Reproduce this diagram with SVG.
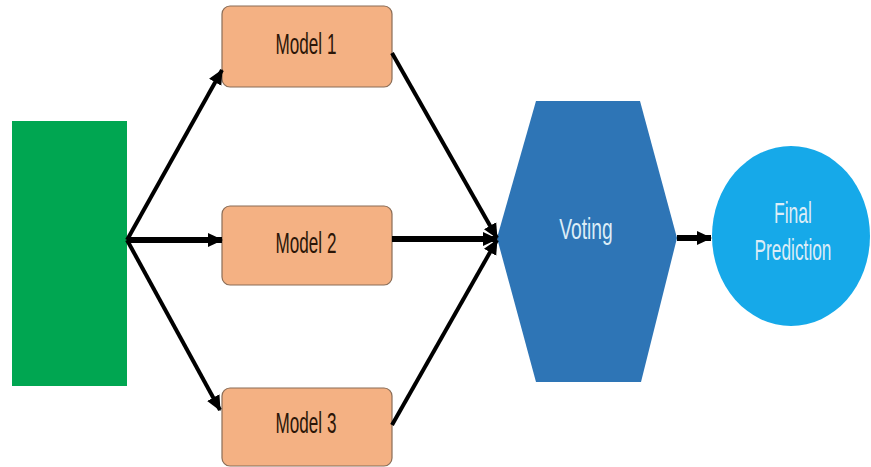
<svg xmlns="http://www.w3.org/2000/svg" width="871" height="467" viewBox="0 0 871 467">
  <style>
    .box { fill: #F4B183; stroke: #8a6d57; stroke-width: 1.2; }
    .lbl { font-family: "Liberation Sans", Arial, sans-serif; font-size: 29px; text-anchor: middle; }
    .dark { fill: #2b1608; }
    .light { fill: #dcedf7; }
    .conn { stroke: #000; fill: none; stroke-linecap: butt; }
    .thin { stroke-width: 4; }
    .thick { stroke-width: 6; }
  </style>
  <defs>
    <marker id="ah" markerUnits="userSpaceOnUse" markerWidth="16" markerHeight="16" viewBox="0 0 16 16" refX="14" refY="8" orient="auto">
      <path d="M0,1 L15,8 L0,15 Z" fill="#000"/>
    </marker>
  </defs>
  <rect width="871" height="467" fill="#ffffff"/>

  <g id="input">
    <rect x="12" y="121" width="115" height="265" fill="#00A651"/>
  </g>

  <g id="model1">
    <rect class="box" x="222" y="6" width="170" height="81" rx="8"/>
    <text class="lbl dark" transform="translate(306,54) scale(0.59,1)">Model 1</text>
  </g>
  <g id="model2">
    <rect class="box" x="222" y="206" width="170" height="79" rx="8"/>
    <text class="lbl dark" transform="translate(306,253) scale(0.59,1)">Model 2</text>
  </g>
  <g id="model3">
    <rect class="box" x="222" y="388" width="170" height="78" rx="8"/>
    <text class="lbl dark" transform="translate(306,433) scale(0.59,1)">Model 3</text>
  </g>

  <g id="voting">
    <polygon points="497,238 536,101 640,101 677,238 641,382 536,382" fill="#2E75B6"/>
    <text class="lbl light" font-size="26" transform="translate(586,239) scale(0.665,1)">Voting</text>
  </g>

  <g id="final">
    <ellipse cx="791" cy="236" rx="79" ry="90" fill="#16A9E9"/>
    <text class="lbl light" transform="translate(793,223) scale(0.605,1)">Final</text>
    <text class="lbl light" transform="translate(793,260) scale(0.597,1)">Prediction</text>
  </g>

  <g id="connectors">
    <line class="conn thin" x1="127" y1="240" x2="222" y2="70" marker-end="url(#ah)"/>
    <line class="conn thick" x1="127" y1="240" x2="222" y2="240" marker-end="url(#ah)"/>
    <line class="conn thin" x1="127" y1="240" x2="220" y2="410" marker-end="url(#ah)"/>
    <line class="conn thin" x1="392" y1="53" x2="497" y2="238" marker-end="url(#ah)"/>
    <line class="conn thick" x1="392" y1="239" x2="497" y2="239" marker-end="url(#ah)"/>
    <line class="conn thin" x1="392" y1="425" x2="497" y2="240" marker-end="url(#ah)"/>
    <line class="conn thick" x1="677" y1="238" x2="711" y2="238" marker-end="url(#ah)"/>
  </g>
</svg>
